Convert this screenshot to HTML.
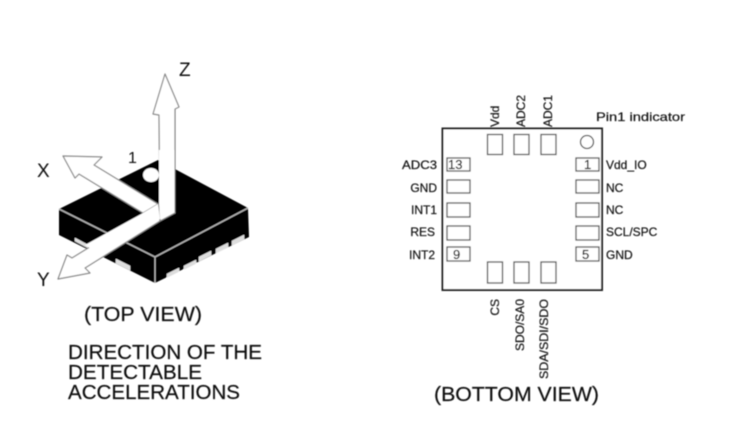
<!DOCTYPE html>
<html>
<head>
<meta charset="utf-8">
<style>
html,body{margin:0;padding:0;background:#fff;width:740px;height:448px;overflow:hidden}
svg{display:block}
text{font-family:"Liberation Sans",sans-serif;fill:#111}
.s{font-size:12px;stroke:#111;stroke-width:0.2}
.b{font-size:20px;stroke:#111;stroke-width:0.2}
</style>
</head>
<body>
<svg width="740" height="448" viewBox="0 0 740 448" xmlns="http://www.w3.org/2000/svg">
<defs><filter id="f" x="-5%" y="-5%" width="110%" height="110%"><feGaussianBlur stdDeviation="0.55"/></filter></defs>
<g filter="url(#f)">
<!-- chip -->
<polygon points="59,209 158,160 248,208 249,237 155,283 59,235" fill="#000"/>
<polyline points="59,209 155,257 248,208" fill="none" stroke="#bbb" stroke-width="1.3"/>
<line x1="155" y1="257" x2="155" y2="283" stroke="#bbb" stroke-width="1.3"/>
<g fill="#ddd" stroke="#fff" stroke-width="0.5">
<polygon points="167,274 179,268 179,272 167,278"/>
<polygon points="184,266 196,260 196,264 184,270"/>
<polygon points="199,257 211,251 211,255 199,261"/>
<polygon points="216,249 228,243 228,247 216,253"/>
<polygon points="232,241 244,235 244,239 232,245"/>
<polygon points="116,259 130,266 130,270 116,263"/>
<polygon points="75,238 88,245 88,248 75,241"/>
</g>
<ellipse cx="151" cy="175" rx="8" ry="7" fill="#fff"/>
<!-- arrows -->
<polygon points="165,74 179,107 175,109 175,213 160,221 159,115 153,114" fill="#fff" stroke="#888" stroke-width="1.2" stroke-linejoin="round"/>
<polygon points="63,156 102,157 94,165 158,204 143,213 79,174 75,178" fill="#fff" stroke="#888" stroke-width="1.2" stroke-linejoin="round"/>
<polygon points="58,279 67,255 72,258 158,205 160,221 85,268 90,273" fill="#fff" stroke="#888" stroke-width="1.2" stroke-linejoin="round"/>
<polygon points="159,204 160,219 175,212 175,150 159,150" fill="#fff"/>
<polygon points="143,213 158,204 160,219 100,255 85,245" fill="#fff"/>
<line x1="175" y1="109" x2="175" y2="212" stroke="#777" stroke-width="1"/>
<text x="179" y="76" font-size="19">Z</text>
<text x="37" y="177" font-size="19">X</text>
<text x="37" y="286" font-size="19">Y</text>
<text x="128" y="163" font-size="16">1</text>
<text x="84" y="321" class="b" textLength="118" lengthAdjust="spacingAndGlyphs">(TOP VIEW)</text>
<text x="68" y="359" class="b" textLength="194" lengthAdjust="spacingAndGlyphs">DIRECTION OF THE</text>
<text x="68" y="379" class="b" textLength="134" lengthAdjust="spacingAndGlyphs">DETECTABLE</text>
<text x="68" y="399" class="b" textLength="172" lengthAdjust="spacingAndGlyphs">ACCELERATIONS</text>
<!-- bottom view -->
<rect x="442.5" y="128.5" width="159.5" height="161.5" fill="#fff" stroke="#222" stroke-width="2"/>
<g fill="#fff" stroke="#555" stroke-width="1.3">
<rect x="487.5" y="134.5" width="15" height="20"/>
<rect x="514" y="134.5" width="15" height="20"/>
<rect x="541" y="134.5" width="15" height="20"/>
<circle cx="587" cy="142" r="6.5"/>
<rect x="447" y="158" width="23" height="13"/>
<rect x="447" y="180" width="23" height="13"/>
<rect x="447" y="203" width="23" height="14"/>
<rect x="447" y="226" width="23" height="14"/>
<rect x="447" y="247" width="23" height="14"/>
<rect x="576" y="158" width="23" height="13"/>
<rect x="576" y="180" width="23" height="13"/>
<rect x="576" y="203" width="23" height="14"/>
<rect x="576" y="226" width="23" height="14"/>
<rect x="576" y="247" width="23" height="14"/>
<rect x="487.5" y="262" width="15" height="21"/>
<rect x="514" y="262" width="15" height="21"/>
<rect x="541" y="262" width="15" height="21"/>
</g>
<text x="448" y="169" class="s" style="font-size:13px">13</text>
<text x="584" y="169" class="s" style="font-size:13px">1</text>
<text x="453" y="259" class="s" style="font-size:13px">9</text>
<text x="582" y="259" class="s" style="font-size:13px">5</text>
<g text-anchor="end">
<text x="437" y="169" class="s" textLength="35" lengthAdjust="spacingAndGlyphs">ADC3</text>
<text x="437" y="192" class="s">GND</text>
<text x="437" y="214" class="s">INT1</text>
<text x="435" y="236" class="s">RES</text>
<text x="435" y="259" class="s">INT2</text>
</g>
<text x="606" y="169" class="s">Vdd_IO</text>
<text x="606" y="192" class="s">NC</text>
<text x="606" y="214" class="s">NC</text>
<text x="606" y="236" class="s">SCL/SPC</text>
<text x="606" y="259" class="s">GND</text>
<text x="596" y="121" class="s" textLength="89" lengthAdjust="spacingAndGlyphs">Pin1 indicator</text>
<text transform="translate(499,127) rotate(-90)" class="s">Vdd</text>
<text transform="translate(525,127) rotate(-90)" class="s">ADC2</text>
<text transform="translate(552,127) rotate(-90)" class="s">ADC1</text>
<text transform="translate(499,299) rotate(-90)" class="s" text-anchor="end">CS</text>
<text transform="translate(524,299) rotate(-90)" class="s" text-anchor="end">SDO/SA0</text>
<text transform="translate(548,299) rotate(-90)" class="s" text-anchor="end" textLength="80" lengthAdjust="spacingAndGlyphs">SDA/SDI/SDO</text>
<text x="434" y="401" class="b" textLength="165" lengthAdjust="spacingAndGlyphs">(BOTTOM VIEW)</text>
</g>
</svg>
</body>
</html>
